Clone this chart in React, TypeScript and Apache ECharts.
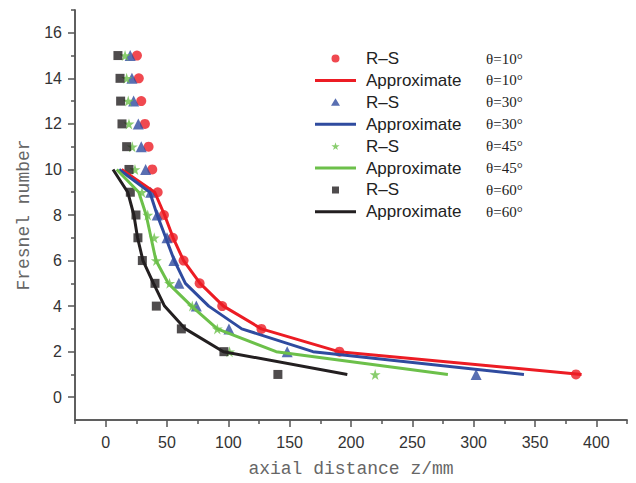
import React, { useEffect, useRef } from "react";
import * as echarts from "echarts";

const rs10: [number, number][] = [
  [25.5, 15], [27, 14], [29, 13], [32, 12], [35, 11], [38, 10], [42.4, 9], [47.5, 8],
  [54.8, 7], [63.5, 6], [76.6, 5], [95, 4], [127, 3], [190.6, 2], [383.4, 1],
];
const ap10: [number, number][] = [
  [13, 10], [40, 9], [48, 8], [55, 7], [63.5, 6], [77, 5], [96, 4], [127, 3], [190, 2], [388, 1],
];
const rs30: [number, number][] = [
  [20, 15], [21.4, 14], [22.8, 13], [26.6, 12], [29, 11], [32.6, 10], [36.7, 9], [42, 8],
  [50, 7], [55.6, 6], [59.7, 5], [73.9, 4], [100.5, 3], [148, 2], [302, 1],
];
const ap30: [number, number][] = [
  [11, 10], [36, 9], [42, 8], [49, 7], [56, 6], [65, 5], [84, 4], [111, 3], [169, 2], [341, 1],
];
const rs45: [number, number][] = [
  [15.8, 15], [17.1, 14], [18.4, 13], [19, 12], [21.7, 11], [23.9, 10], [29.6, 9], [34.3, 8],
  [39.6, 7], [41.3, 6], [52.1, 5], [70.6, 4], [91, 3], [101, 2], [219.7, 1],
];
const ap45: [number, number][] = [
  [9, 10], [27, 9], [33, 8], [37, 7], [41, 6], [51, 5], [70, 4], [91, 3], [139, 2], [279, 1],
];
const rs60: [number, number][] = [
  [10, 15], [11.7, 14], [12.2, 13], [13.3, 12], [17.1, 11], [19, 10], [20.1, 9], [24.7, 8],
  [26.3, 7], [29.9, 6], [40.2, 5], [41.3, 4], [61.7, 3], [96.4, 2], [140.4, 1],
];
const ap60: [number, number][] = [
  [6, 10], [18, 9], [23, 8], [26, 7], [30.4, 6], [39, 5], [48, 4], [65, 3], [96, 2], [197, 1],
];

const xMajor = [0, 50, 100, 150, 200, 250, 300, 350, 400];
const xMinor = [-25, 25, 75, 125, 175, 225, 275, 325, 375, 425];
const yMajor = [0, 2, 4, 6, 8, 10, 12, 14, 16];
const yMinor = [1, 3, 5, 7, 9, 11, 13, 15, 17];

const angles = ["θ=10°", "θ=30°", "θ=45°", "θ=60°"];
const RED = "#ec1c24";
const BLUE = "#2f4b9f";
const GREEN = "#6cc04a";
const BLACK = "#231f20";
const STAR = "path://M50,0 L61,35 L98,35 L68,57 L79,91 L50,70 L21,91 L32,57 L2,35 L39,35 Z";

// legend icons: invisible corner points keep a 41x8 box so shapes are not stretched
const BOX = "M0,0 L0.01,0 Z M41,8 L40.99,8 Z ";
const ICON_LINE = "path://" + BOX + "M0,2.5 L41,2.5 L41,5.5 L0,5.5 Z";
const ICON_CIRCLE = "path://" + BOX + "M16.5,4 A4,4 0 1,1 24.5,4 A4,4 0 1,1 16.5,4 Z";
const ICON_TRI = "path://" + BOX + "M16,7.5 L20.5,0 L25,7.5 Z";
const ICON_STAR =
  "path://" + BOX +
  "M20.5,0.2 L21.44,3.18 L24.58,3.18 L22.03,5.05 L22.97,7.94 L20.5,6.15 L18.04,7.94 L18.97,5.05 L16.42,3.18 L19.57,3.18 Z";
const ICON_SQ = "path://" + BOX + "M17,0.5 L24,0.5 L24,7.5 L17,7.5 Z";

export default function App() {
  const ref = useRef<HTMLDivElement>(null);
  useEffect(() => {
    if (!ref.current) return;
    const chart = echarts.init(ref.current, undefined, { renderer: "svg" });
    const axisColor = "#555";
    const labelStyle = {
      fontFamily: "Liberation Sans",
      fontSize: 16,
      color: "#333",
    };
    const nameStyle = {
      fontFamily: "Liberation Mono",
      fontSize: 18,
      color: "#666",
    };
    const scatter = (name: string, data: [number, number][], symbol: string, size: number, color: string) => ({
      name,
      type: "scatter",
      data,
      symbol,
      symbolSize: size,
      itemStyle: { color },
    });
    const line = (name: string, data: [number, number][], color: string) => ({
      name,
      type: "line",
      data,
      symbol: "none",
      showSymbol: false,
      lineStyle: { color, width: 3 },
      itemStyle: { color },
    });
    const series = [
      scatter("R–S " + angles[0], rs10, "circle", 10, RED),
      line("Approximate " + angles[0], ap10, RED),
      scatter("R–S " + angles[1], rs30, "triangle", 11, BLUE),
      line("Approximate " + angles[1], ap30, BLUE),
      scatter("R–S " + angles[2], rs45, STAR, 11, GREEN),
      line("Approximate " + angles[2], ap45, GREEN),
      scatter("R–S " + angles[3], rs60, "rect", 9, BLACK),
      line("Approximate " + angles[3], ap60, BLACK),
    ];
    const icons = [ICON_CIRCLE, ICON_LINE, ICON_TRI, ICON_LINE, ICON_STAR, ICON_LINE, ICON_SQ, ICON_LINE];
    const colors = [RED, RED, BLUE, BLUE, GREEN, GREEN, BLACK, BLACK];
    const axisLineStyle = { color: axisColor, width: 1.5 };
    chart.setOption({
      animation: false,
      grid: { left: 75, right: 9, top: 10, bottom: 63, containLabel: false },
      legend: {
        orient: "vertical",
        left: 310,
        top: 45,
        itemWidth: 41,
        itemHeight: 8,
        itemGap: 4.9,
        data: series.map((s, i) => ({
          name: s.name,
          icon: icons[i],
          itemStyle: { color: colors[i], borderWidth: 0 },
        })),
        formatter: (n: string) => {
          const i = n.lastIndexOf(" ");
          return `{a|${n.slice(0, i)}}{b|${n.slice(i + 1)}}`;
        },
        textStyle: {
          rich: {
            a: {
              fontFamily: "Liberation Sans",
              fontSize: 17,
              color: "#222",
              width: 120,
              padding: [0, 0, 0, 5],
              lineHeight: 18,
            },
            b: {
              fontFamily: "Liberation Serif",
              fontSize: 15,
              color: "#222",
              lineHeight: 18,
            },
          },
        },
      },
      xAxis: [
        {
          type: "value",
          min: -25,
          max: 425,
          name: "axial distance z/mm",
          nameLocation: "middle",
          nameGap: 40,
          nameTextStyle: nameStyle,
          splitLine: { show: false },
          axisLine: { show: true, onZero: false, lineStyle: axisLineStyle },
          axisTick: { show: true, customValues: xMajor, length: 7, lineStyle: axisLineStyle },
          axisLabel: { customValues: xMajor, margin: 14, ...labelStyle },
        },
        {
          type: "value",
          min: -25,
          max: 425,
          position: "bottom",
          splitLine: { show: false },
          axisLine: { show: true, onZero: false, lineStyle: axisLineStyle },
          axisTick: { show: true, customValues: xMinor, length: 4, lineStyle: axisLineStyle },
          axisLabel: { show: false },
        },
      ],
      yAxis: [
        {
          type: "value",
          min: -1,
          max: 17,
          name: "Fresnel number",
          nameLocation: "middle",
          nameGap: 41,
          nameTextStyle: nameStyle,
          splitLine: { show: false },
          axisLine: { show: true, onZero: false, lineStyle: axisLineStyle },
          axisTick: { show: true, customValues: yMajor, length: 7, lineStyle: axisLineStyle },
          axisLabel: { customValues: yMajor, margin: 13, ...labelStyle },
        },
        {
          type: "value",
          min: -1,
          max: 17,
          position: "left",
          splitLine: { show: false },
          axisLine: { show: true, onZero: false, lineStyle: axisLineStyle },
          axisTick: { show: true, customValues: yMinor, length: 4, lineStyle: axisLineStyle },
          axisLabel: { show: false },
        },
      ],
      series,
    });
    return () => chart.dispose();
  }, []);
  return (
    <div
      ref={ref}
      style={{ position: "fixed", left: 0, top: 0, width: 636, height: 483, background: "#fff" }}
    />
  );
}
